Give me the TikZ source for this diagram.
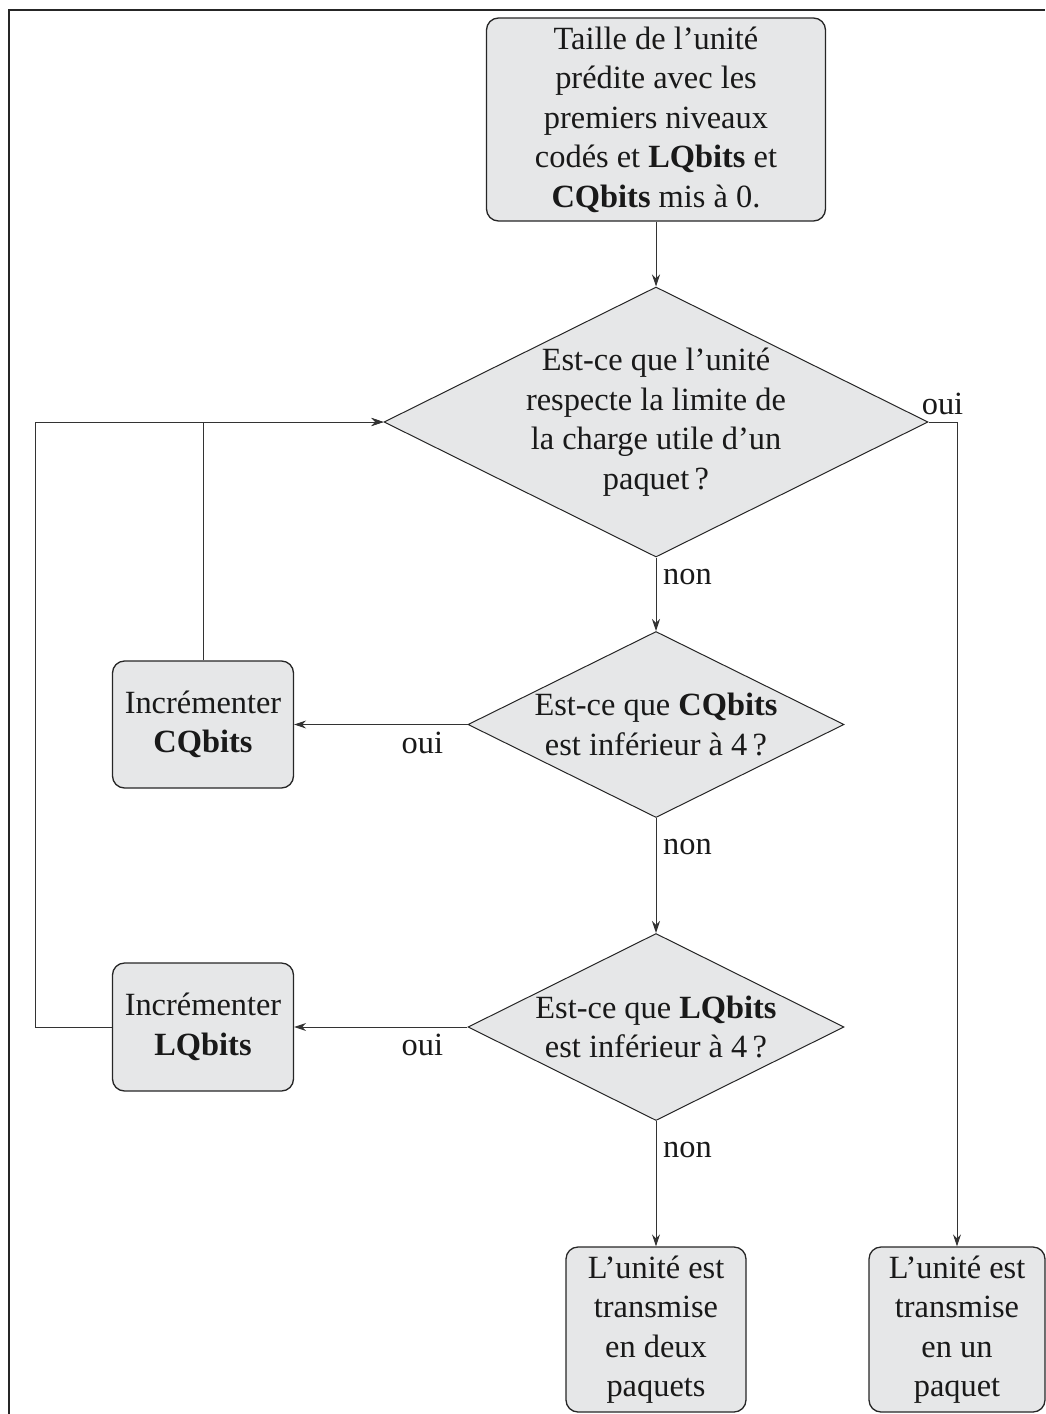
\documentclass[tikz,border=0pt]{standalone}
\usepackage{fontspec}
\setmainfont{Liberation Serif}
\usetikzlibrary{shapes,arrows.meta,positioning}
\definecolor{boxgray}{RGB}{230,231,232}

\begin{document}
\begin{tikzpicture}[->,>={Stealth[length=6pt,width=4pt]}, line width=0.5pt,
x=0.5pt, y=-0.5pt, node distance=151.25pt,
every node/.style={font=\fontsize{16.2}{19.75}\selectfont, text=black!90},
block/.style={rectangle, rounded corners=6pt, draw=black!85, fill=boxgray,
  line width=0.65pt, align=center, inner sep=0pt},
decision/.style={diamond, shape aspect=2, draw=black!85, fill=boxgray,
  line width=0.5pt, align=center, inner sep=-2pt},
wire/.style={draw=black!80}]

\useasboundingbox (0,0) rectangle (1045,1414);
\draw [-, line width=1pt, black!85] (8.5,1414) -- (8.5,9.5) -- (1045,9.5);

\node [block, minimum width=169.5pt, minimum height=101.5pt] (start) at (656,119.5)
  {Taille de l'unité\\prédite avec les\\premiers niveaux\\codés et \textbf{LQbits} et\\\textbf{CQbits} mis à 0.};

\node [decision, minimum width=272pt, minimum height=135pt] (fits) [below of=start]
  {Est-ce que l'unité\\respecte la limite de\\la charge utile d'un\\paquet\,?};
\path (start) edge [wire] (fits);

\node [decision, minimum width=188pt, minimum height=93pt] (cqtest) [below of=fits]
  {Est-ce que \textbf{CQbits}\\est inférieur à 4\,?};
\path (fits) edge [wire] node [right, pos=0.27] {non} (cqtest);

\node [block, minimum width=90.5pt, minimum height=63.5pt] (inccq) [left of=cqtest, node distance=226.5pt]
  {Incrémenter\\\textbf{CQbits}};
\path (cqtest) edge [wire] node [below, pos=0.26] {oui} (inccq);

\node [decision, minimum width=188pt, minimum height=93.5pt] (lqtest) [below of=cqtest]
  {Est-ce que \textbf{LQbits}\\est inférieur à 4\,?};
\path (cqtest) edge [wire] node [right, pos=0.25] {non} (lqtest);

\node [block, minimum width=90.5pt, minimum height=64pt] (inclq) [left of=lqtest, node distance=226.5pt]
  {Incrémenter\\\textbf{LQbits}};
\path (lqtest) edge [wire] node [below, pos=0.26] {oui} (inclq);

\node [block, minimum width=90pt, minimum height=82.5pt] (twopk) [below of=lqtest]
  {L'unité est\\transmise\\en deux\\paquets};
\path (lqtest) edge [wire] node [right, pos=0.23] {non} (twopk);

\node [block, minimum width=88pt, minimum height=82.5pt] (onepk) [right of=twopk, node distance=150.5pt]
  {L'unité est\\transmise\\en un\\paquet};
\draw [wire] (fits.east) -| node [pos=0, above, xshift=7pt] {oui} (onepk.north);

% retours vers le premier test
\draw [wire] (inccq.north) |- (fits.west);
\draw [wire] (inclq.west) -- ++(-76,0) |- (fits.west);

\end{tikzpicture}
\end{document}
